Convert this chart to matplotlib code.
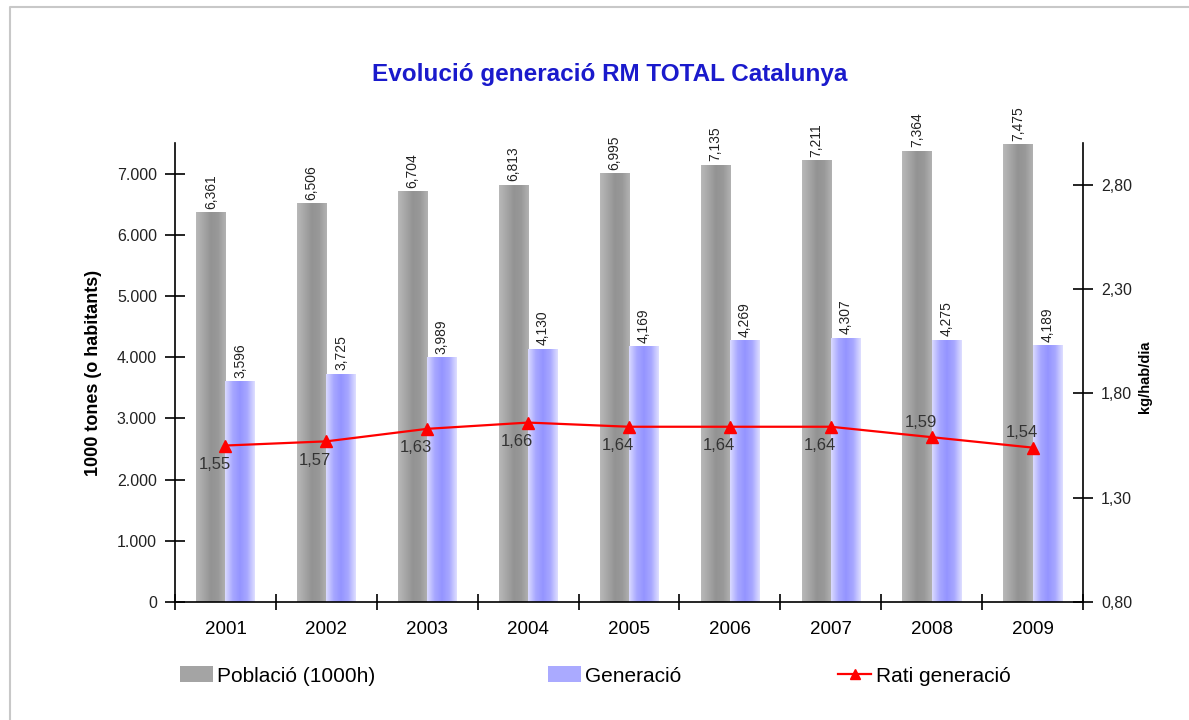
import matplotlib
matplotlib.use("Agg")
import matplotlib.pyplot as plt
import numpy as np
from matplotlib.colors import LinearSegmentedColormap
from matplotlib.lines import Line2D
from matplotlib.patches import Patch

plt.rcParams["font.family"] = ["Liberation Sans", "DejaVu Sans"]

# ── dades ─────────────────────────────────────────
years = ["2001", "2002", "2003", "2004", "2005", "2006", "2007", "2008", "2009"]
poblacio = [6361, 6506, 6704, 6813, 6995, 7135, 7211, 7364, 7475]
generacio = [3596, 3725, 3989, 4130, 4169, 4269, 4307, 4275, 4189]
rati = [1.55, 1.57, 1.63, 1.66, 1.64, 1.64, 1.64, 1.59, 1.54]
rati_pos = ["below"] * 7 + ["above"] * 2

left_ticks = [0, 1000, 2000, 3000, 4000, 5000, 6000, 7000]
right_ticks = [0.80, 1.30, 1.80, 2.30, 2.80]


def fmt_miles(v):
    return f"{v:,.0f}".replace(",", ".")


def fmt_dec(v):
    return f"{v:.2f}".replace(".", ",")


gray_cmap = LinearSegmentedColormap.from_list(
    "gris", ["#b8b8b8", "#a6a6a6", "#939393", "#999999", "#b2b2b2"]
)
blue_cmap = LinearSegmentedColormap.from_list(
    "blau", ["#dadaff", "#a8a8ff", "#9494ff", "#a8a8ff", "#dedeff"]
)
grad = np.linspace(0, 1, 64).reshape(1, -1)

fig = plt.figure(figsize=(11.89, 7.2), dpi=100)
ax = fig.add_axes([175 / 1189, 118 / 720, 908 / 1189, 459 / 720])

x = np.arange(len(years))
w = 0.29

for xi, p, g in zip(x, poblacio, generacio):
    ax.imshow(grad, cmap=gray_cmap, extent=(xi - w, xi, 0, p),
              aspect="auto", zorder=2, interpolation="bicubic")
    ax.imshow(grad, cmap=blue_cmap, extent=(xi, xi + w, 0, g),
              aspect="auto", zorder=2, interpolation="bicubic")
    ax.annotate(fmt_miles(p).replace(".", ","), xy=(xi - w / 2, p), xytext=(0, 4),
                textcoords="offset pixels", rotation=90, ha="center",
                va="bottom", fontsize=10, color="#222222")
    ax.annotate(fmt_miles(g).replace(".", ","), xy=(xi + w / 2, g), xytext=(0, 4),
                textcoords="offset pixels", rotation=90, ha="center",
                va="bottom", fontsize=10, color="#222222")

ax.set_xlim(-0.5, len(years) - 0.5)
ax.set_ylim(0, 7500)
ax.set_xticks(x)
ax.set_xticklabels(years, fontsize=13.5)
ax.set_xticks(np.arange(len(years) + 1) - 0.5, minor=True)
ax.tick_params(axis="x", which="major", length=0, pad=14)
ax.tick_params(axis="x", which="minor", length=12, direction="inout", width=1.2)
ax.set_yticks(left_ticks)
ax.set_yticklabels([fmt_miles(v) for v in left_ticks], fontsize=11.5,
                   color="#222222")
ax.tick_params(axis="y", length=14, direction="inout", width=1.2, pad=6)
for s in ["top", "right"]:
    ax.spines[s].set_visible(False)
for s in ["left", "bottom"]:
    ax.spines[s].set_linewidth(1.2)
ax.set_ylabel("1000 tones (o habitants)", fontsize=13, fontweight="bold")
ax.yaxis.set_label_coords(-0.08, 0.5)

# ── eix secundari: rati ───────────────────────────
ax2 = ax.twinx()
ax2.plot(x, rati, color="#ff0000", linewidth=1.6, marker="^", markersize=8,
         zorder=5)
for xi, r, pos in zip(x, rati, rati_pos):
    dy = -19 if pos == "below" else 15
    ax2.annotate(fmt_dec(r), xy=(xi, r), xytext=(-11, dy),
                 textcoords="offset pixels", ha="center", va="center",
                 fontsize=12, color="#333333")
ax2.set_ylim(0.8, 3.0)
ax2.set_yticks(right_ticks)
ax2.set_yticklabels([fmt_dec(v) for v in right_ticks], fontsize=11.5,
                    color="#222222")
ax2.tick_params(axis="y", length=14, direction="inout", width=1.2, pad=6)
for s in ["top", "left", "bottom"]:
    ax2.spines[s].set_visible(False)
ax2.spines["right"].set_linewidth(1.2)
ax2.set_ylabel("kg/hab/dia", fontsize=10.5, fontweight="bold")
ax2.yaxis.set_label_coords(1.061, 0.49)

fig.text(610 / 1189, 1 - 75 / 720, "Evolució generació RM TOTAL Catalunya",
         ha="center", va="center", fontsize=17.5, fontweight="bold",
         color="#1a1acc")

# ── llegenda ──────────────────────────────────────
items = [
    (Patch(facecolor="#a4a4a4", edgecolor="none"), "Població (1000h)", 180),
    (Patch(facecolor="#aaaaff", edgecolor="none"), "Generació", 548),
    (Line2D([], [], color="#ff0000", linewidth=1.6, marker="^", markersize=7),
     "Rati generació", 838),
]
for h, lab, px in items:
    fig.legend([h], [lab], loc="center left", bbox_to_anchor=(px / 1189, 1 - 676 / 720),
               frameon=False, fontsize=15, handlelength=1.6, handleheight=0.8,
               handletextpad=0.2, borderpad=0, borderaxespad=0)

# marc
fig.add_artist(Line2D([10 / 1189, 10 / 1189, 1], [0, 1 - 7 / 720, 1 - 7 / 720],
                      color="#c8c8c8", linewidth=1.5))

fig.savefig("out.png", dpi=100)
